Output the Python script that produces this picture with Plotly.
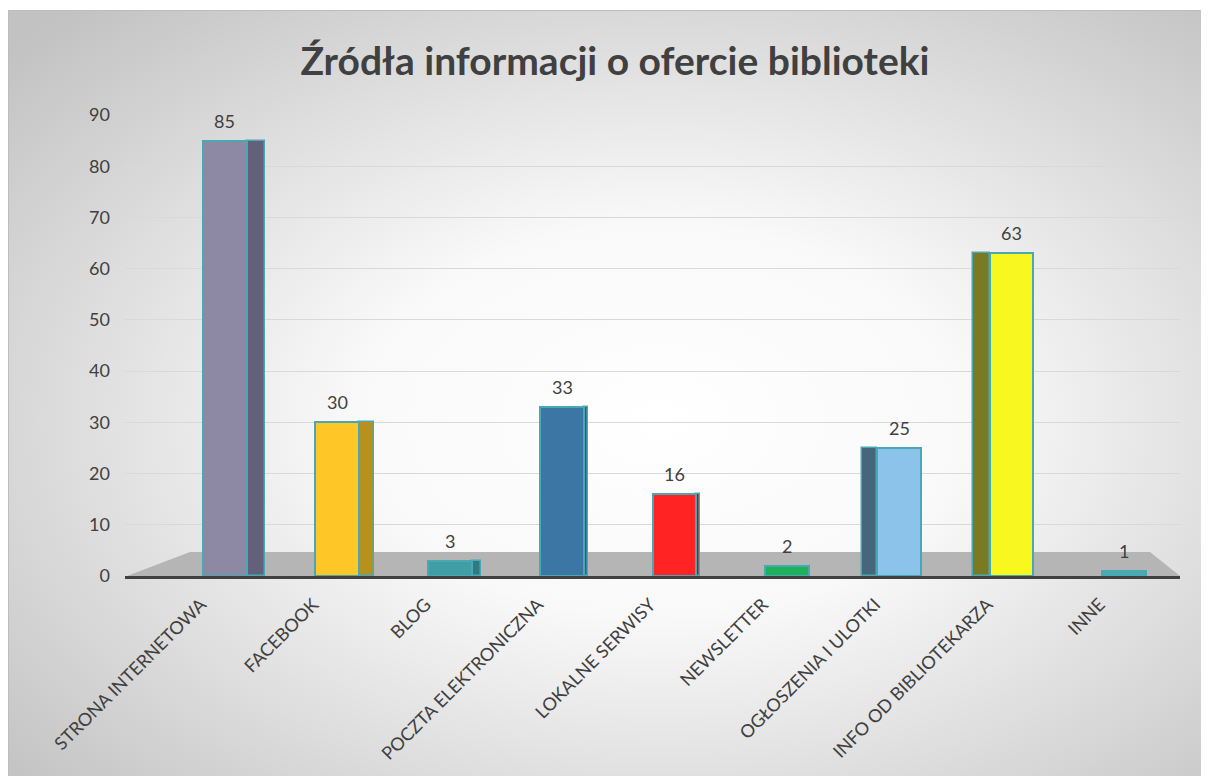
import base64
import plotly.graph_objects as go

# ---- data ----
categories = ["STRONA INTERNETOWA", "FACEBOOK", "BLOG", "POCZTA ELEKTRONICZNA",
              "LOKALNE SERWISY", "NEWSLETTER", "OGŁOSZENIA I ULOTKI",
              "INFO OD BIBLIOTEKARZA", "INNE"]
values = [85, 30, 3, 33, 16, 2, 25, 63, 1]
y_ticks = [0, 10, 20, 30, 40, 50, 60, 70, 80, 90]
title_text = "Źródła informacji o ofercie biblioteki"

# ---- styles ----
front_colors = ["#8d88a3", "#fec626", "#3f9ea6", "#3b76a4", "#ff2323",
                "#1db25a", "#8cc3ea", "#f8f81e", "#4aaab4"]
side_colors = ["#63607a", "#b8911c", "#2e7a80", "#2d5d85", "#b01515",
               "#158a45", "#46677a", "#7a7a22", "#358a92"]
side_offset = [0.195, 0.195, 0.195, 0.195, 0.195, 0.195, -0.33, -0.345, 0.195]
side_width = [0.16, 0.13, 0.08, 0.04, 0.03, 0.0, 0.135, 0.15, 0.0]
edge_color = "#4aa8b4"
FONT = "Lato, Open Sans, sans-serif"
TXT = "#404040"

W, H = 1209, 776
OFF = 8  # page body margin
# plot area in page pixels
SL, SR, ST, SB = 125, 1180, 115, 576
PL, PR, PT, PB = SL - OFF, SR - OFF, ST - OFF, SB - OFF
pw, ph = PR - PL, PB - PT


def px(x):  # page px -> plot-paper fraction
    return (x - OFF - PL) / pw


def py(y):
    return (PB - (y - OFF)) / ph


fig = go.Figure()

# side faces (pseudo 3D)
fig.add_trace(go.Bar(
    x=categories, y=values, width=side_width, offset=side_offset,
    marker=dict(color=side_colors, line=dict(color=edge_color, width=1.5)),
    hoverinfo="skip", showlegend=False))

# front faces
fig.add_trace(go.Bar(
    x=categories, y=values, width=0.39,
    marker=dict(color=front_colors, line=dict(color=edge_color, width=2)),
    showlegend=False))

# data labels
for c, v in zip(categories, values):
    fig.add_annotation(x=c, y=v, text=str(v), showarrow=False,
                       yanchor="bottom", yshift=7,
                       font=dict(family=FONT, size=18, color=TXT))

# background radial gradient (Excel style)
svg = """<svg xmlns='http://www.w3.org/2000/svg' width='1209' height='774' viewBox='0 0 1209 774' preserveAspectRatio='none'>
<defs><radialGradient id='g' cx='0.54' cy='0.53' r='0.72'>
<stop offset='0' stop-color='#ffffff'/>
<stop offset='0.35' stop-color='#f9f9f9'/>
<stop offset='1' stop-color='#c2c2c2'/>
</radialGradient></defs>
<rect x='0.5' y='0.5' width='1208' height='773' fill='url(#g)' stroke='#bdbdbd' stroke-width='1'/>
</svg>"""
src = "data:image/svg+xml;base64," + base64.b64encode(svg.encode()).decode()

fig.add_layout_image(dict(
    source=src, xref="paper", yref="paper",
    x=px(OFF), y=py(OFF + 2), sizex=W / pw, sizey=(H - 2) / ph,
    xanchor="left", yanchor="top", sizing="stretch", layer="below"))

# floor
fig.add_shape(type="path",
              path=f"M {px(127)},{py(576)} L {px(190)},{py(552)} L {px(1150)},{py(552)} L {px(1180)},{py(576)} Z",
              xref="paper", yref="paper", fillcolor="#b5b5b5", line=dict(width=0), layer="below")

fig.update_layout(
    width=W, height=H,
    margin=dict(l=PL, r=W - PR, t=PT, b=H - PB),
    paper_bgcolor="white", plot_bgcolor="rgba(0,0,0,0)",
    barmode="overlay", bargap=0,
    title=dict(text=f"<b>{title_text}</b>", x=(615 - OFF) / W, xref="container", xanchor="center",
               y=1 - (61 - OFF) / H, yanchor="middle",
               font=dict(family=FONT, size=39, color=TXT)),
    font=dict(family=FONT, color=TXT),
    showlegend=False,
)

fig.update_xaxes(
    range=[-0.89, 8.5], showgrid=False, ticks="", tickangle=-45,
    tickfont=dict(family=FONT, size=18, color=TXT),
    showline=True, linecolor="#404040", linewidth=3, zeroline=False,
    ticklabelshift=-24, ticklabelstandoff=8)

fig.update_yaxes(
    range=[0, 90], tickvals=y_ticks, ticktext=[str(t) for t in y_ticks],
    showgrid=True, gridcolor="#d9d9d9", gridwidth=1, zeroline=False,
    showline=False, ticks="",
    tickfont=dict(family=FONT, size=18, color=TXT),
    ticklabelstandoff=14)

fig.write_html("out.html")
